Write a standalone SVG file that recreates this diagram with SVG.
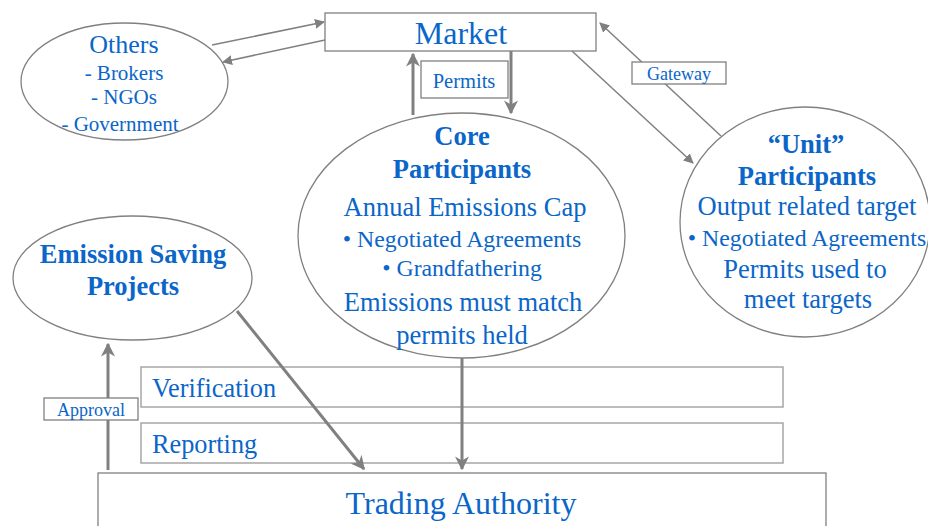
<svg xmlns="http://www.w3.org/2000/svg" width="928" height="526" viewBox="0 0 928 526">
<style>
text{font-family:"Liberation Serif","Times New Roman",serif;fill:#0a66c8;text-anchor:middle}
.b{font-weight:bold}
.m{font-size:26.5px}
.s{font-size:23.8px}
.shape{fill:#fff;stroke:#808080;stroke-width:1.3}
.bar{fill:#fff;stroke:#a6a6a6;stroke-width:1.5}
.thin{stroke:#808080;stroke-width:1.5;fill:none}
.thick{stroke:#808080;stroke-width:3;fill:none}
</style>
<defs>
<marker id="ah" viewBox="0 0 10 10" refX="9" refY="5" markerWidth="10" markerHeight="10" markerUnits="userSpaceOnUse" orient="auto"><path d="M0,0 L10,5 L0,10 z" fill="#808080"/></marker>
<marker id="ahT" viewBox="0 0 10 10" refX="9" refY="5" markerWidth="14" markerHeight="14" markerUnits="userSpaceOnUse" orient="auto"><path d="M0,0 L10,5 L0,10 L3,5 z" fill="#808080"/></marker>
</defs>

<g id="trading-authority">
<rect class="shape" x="98" y="473" width="728" height="60"/>
<text x="461" y="514" font-size="32">Trading Authority</text>
</g>

<g id="verification">
<rect class="bar" x="141" y="367" width="642" height="40"/>
<text x="152" y="397" font-size="26.3" style="text-anchor:start">Verification</text>
</g>
<g id="reporting">
<rect class="bar" x="141" y="423" width="642" height="40"/>
<text x="152" y="453" font-size="26.3" style="text-anchor:start">Reporting</text>
</g>

<g id="connectors">
<line class="thin" x1="212" y1="45" x2="324" y2="22" marker-end="url(#ah)"/>
<line class="thin" x1="325" y1="40" x2="223" y2="62" marker-end="url(#ah)"/>
<line class="thick" x1="413" y1="115" x2="413" y2="54" marker-end="url(#ahT)"/>
<line class="thick" x1="511" y1="51" x2="511" y2="113" marker-end="url(#ahT)"/>
<line class="thin" x1="572" y1="51" x2="693" y2="163" marker-end="url(#ah)"/>
<line class="thin" x1="721" y1="136" x2="600" y2="23" marker-end="url(#ah)"/>
<line class="thick" x1="108" y1="470" x2="108" y2="344" marker-end="url(#ahT)"/>
<line class="thick" x1="237" y1="311" x2="364" y2="469" marker-end="url(#ahT)"/>
<line class="thick" x1="462" y1="358" x2="462" y2="469" marker-end="url(#ahT)"/>
</g>

<g id="market">
<rect class="shape" x="325" y="13" width="271" height="38"/>
<text x="461" y="44" font-size="32">Market</text>
</g>

<g id="permits-label">
<rect class="shape" x="421" y="61" width="87" height="37"/>
<text x="464" y="88" font-size="20.5">Permits</text>
</g>

<g id="gateway-label">
<rect class="shape" x="632" y="62" width="94" height="22"/>
<text x="679" y="80" font-size="18">Gateway</text>
</g>

<g id="approval-label">
<rect class="shape" x="44" y="398" width="94" height="22"/>
<text x="91" y="416" font-size="18">Approval</text>
</g>

<g id="others">
<ellipse class="shape" cx="124.5" cy="81.5" rx="103.5" ry="58.5" style="fill:none"/>
<text x="124" y="53" font-size="26">Others</text>
<text x="124" y="80" font-size="21">- Brokers</text>
<text x="124" y="104" font-size="21">- NGOs</text>
<text x="120" y="131" font-size="21">- Government</text>
</g>

<g id="core-participants">
<ellipse class="shape" cx="461.5" cy="235.5" rx="163.5" ry="122.5" style="fill:none"/>
<text class="b m" x="462" y="145">Core</text>
<text class="b m" x="462" y="178">Participants</text>
<text class="m" x="465" y="216">Annual Emissions Cap</text>
<text class="s" x="462" y="247">• Negotiated Agreements</text>
<text class="s" x="462" y="276">• Grandfathering</text>
<text class="m" x="463" y="311">Emissions must match</text>
<text class="m" x="462" y="344">permits held</text>
</g>

<g id="unit-participants">
<ellipse class="shape" cx="805" cy="222" rx="125" ry="115" style="fill:none"/>
<text class="b m" x="806" y="153">“Unit”</text>
<text class="b m" x="807" y="185">Participants</text>
<text class="m" x="807" y="215">Output related target</text>
<text class="s" x="807" y="246">• Negotiated Agreements</text>
<text class="m" x="805" y="278">Permits used to</text>
<text class="m" x="808" y="308">meet targets</text>
</g>

<g id="emission-saving-projects">
<ellipse class="shape" cx="132.5" cy="278" rx="119.5" ry="62" style="fill:none"/>
<text class="b m" x="133" y="263">Emission Saving</text>
<text class="b m" x="133" y="295">Projects</text>
</g>
</svg>
